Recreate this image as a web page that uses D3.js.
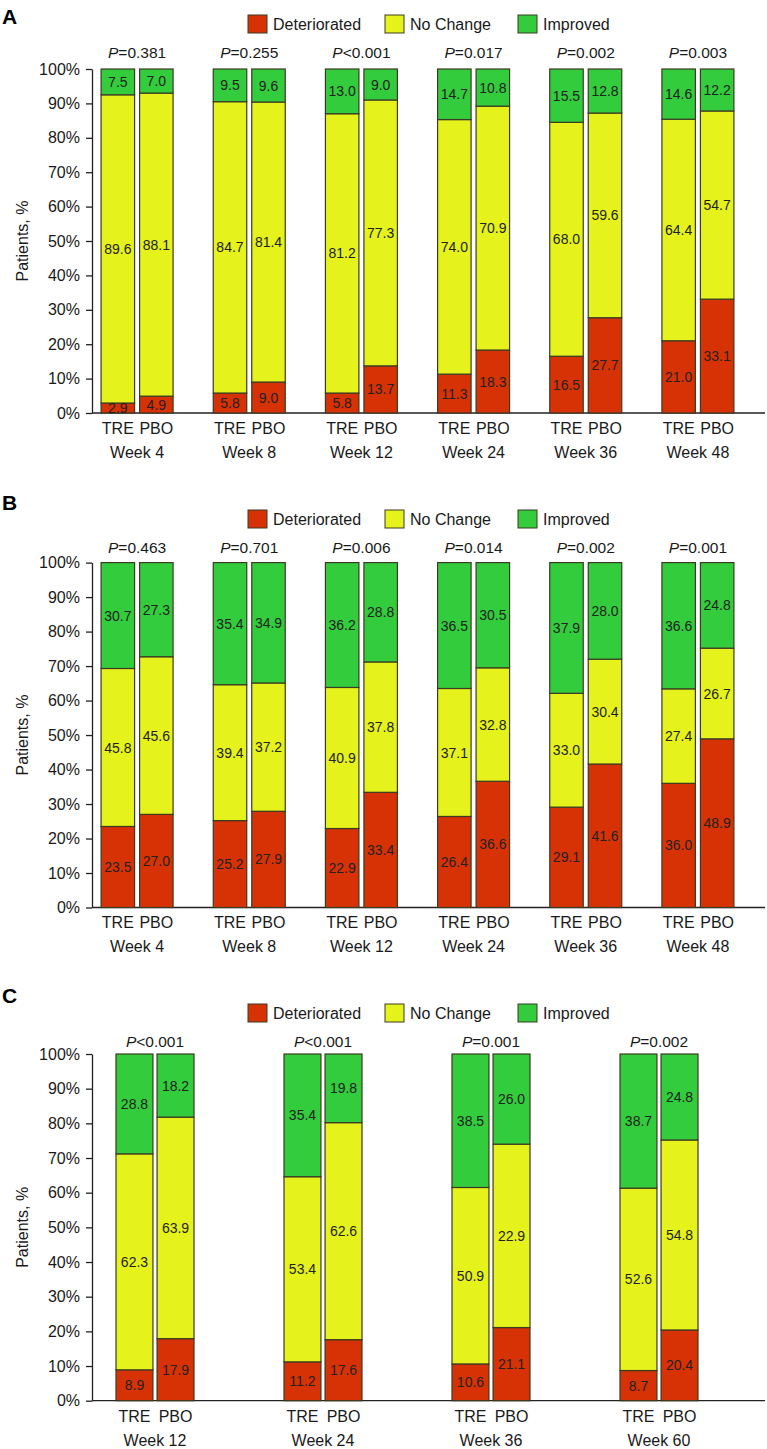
<!DOCTYPE html>
<html><head><meta charset="utf-8">
<script src="https://cdn.jsdelivr.net/npm/d3@7"></script>
<style>
html,body{margin:0;padding:0;background:#fff;}
svg text{font-family:"Liberation Sans",Arial,Helvetica,sans-serif;fill:#1a1a1a;}
</style></head>
<body>
<svg id="chart" width="767" height="1449"></svg>
<script>
// ---------- data ----------
const categories = ["Deteriorated", "No Change", "Improved"];
const arms = ["TRE", "PBO"];
const yTicks = [0, 10, 20, 30, 40, 50, 60, 70, 80, 90, 100];

const weeksAB = ["Week 4", "Week 8", "Week 12", "Week 24", "Week 36", "Week 48"];
const weeksC = ["Week 12", "Week 24", "Week 36", "Week 60"];

// Panel A
const pA = ["=0.381", "=0.255", "<0.001", "=0.017", "=0.002", "=0.003"];
const aTreDet = [2.9, 5.8, 5.8, 11.3, 16.5, 21.0];
const aTreNc  = [89.6, 84.7, 81.2, 74.0, 68.0, 64.4];
const aTreImp = [7.5, 9.5, 13.0, 14.7, 15.5, 14.6];
const aPboDet = [4.9, 9.0, 13.7, 18.3, 27.7, 33.1];
const aPboNc  = [88.1, 81.4, 77.3, 70.9, 59.6, 54.7];
const aPboImp = [7.0, 9.6, 9.0, 10.8, 12.8, 12.2];

// Panel B
const pB = ["=0.463", "=0.701", "=0.006", "=0.014", "=0.002", "=0.001"];
const bTreDet = [23.5, 25.2, 22.9, 26.4, 29.1, 36.0];
const bTreNc  = [45.8, 39.4, 40.9, 37.1, 33.0, 27.4];
const bTreImp = [30.7, 35.4, 36.2, 36.5, 37.9, 36.6];
const bPboDet = [27.0, 27.9, 33.4, 36.6, 41.6, 48.9];
const bPboNc  = [45.6, 37.2, 37.8, 32.8, 30.4, 26.7];
const bPboImp = [27.3, 34.9, 28.8, 30.5, 28.0, 24.8];

// Panel C
const pC = ["<0.001", "<0.001", "=0.001", "=0.002"];
const cTreDet = [8.9, 11.2, 10.6, 8.7];
const cTreNc  = [62.3, 53.4, 50.9, 52.6];
const cTreImp = [28.8, 35.4, 38.5, 38.7];
const cPboDet = [17.9, 17.6, 21.1, 20.4];
const cPboNc  = [63.9, 62.6, 22.9, 54.8];
const cPboImp = [18.2, 19.8, 26.0, 24.8];

// ---------- styles ----------
const colors = {"Deteriorated": "#d63206", "No Change": "#e6f21c", "Improved": "#33cc3c"};
const strokeCol = "#3b3a22";

const svg = d3.select("#chart");

function panel(cfg) {
  const g = svg.append("g");
  const y = d3.scaleLinear().domain([0, 100]).range([cfg.y0, cfg.y100]);
  const x = d3.scaleBand().domain(cfg.weeks).range(cfg.xRange);
  const xi = d3.scaleBand().domain(arms).range([0, cfg.pairW]).paddingInner(cfg.innerPad);
  const off = (x.bandwidth() - cfg.pairW) / 2;

  // panel letter
  g.append("text").attr("x", 2).attr("y", cfg.letterY).text(cfg.letter)
    .style("font-size", "21px").style("font-weight", "bold").style("fill", "#000");

  // legend
  const legX = [248, 385, 518];
  categories.forEach((c, i) => {
    g.append("rect").attr("x", legX[i]).attr("y", cfg.legY - 9).attr("width", 19).attr("height", 18)
      .attr("fill", colors[c]).attr("stroke", strokeCol).attr("stroke-width", 1);
    g.append("text").attr("x", legX[i] + 25).attr("y", cfg.legY).attr("dy", "0.35em")
      .text(c).style("font-size", "16px");
  });

  // y axis
  const yAxis = d3.axisLeft(y).tickValues(yTicks).tickFormat(d => d + "%").tickSize(6).tickSizeOuter(0).tickPadding(6);
  const ya = g.append("g").attr("transform", `translate(${cfg.axisX},0)`).call(yAxis);
  ya.selectAll("text").style("font-size", "16px").style("fill", "#1a1a1a");
  ya.selectAll("line,path").attr("stroke", "#222").attr("stroke-width", 1.3);

  // x baseline
  g.append("line").attr("x1", cfg.axisX).attr("x2", cfg.xEnd).attr("y1", y(0)).attr("y2", y(0))
    .attr("stroke", "#222").attr("stroke-width", 1.3);

  // y title
  g.append("text").attr("transform", `translate(22,${(cfg.y0 + cfg.y100) / 2}) rotate(-90)`)
    .attr("text-anchor", "middle").attr("dy", "0.35em").text("Patients, %").style("font-size", "16px");

  cfg.weeks.forEach((w, i) => {
    const cx = x(w) + x.bandwidth() / 2;
    // P value
    const pt = g.append("text").attr("x", cx).attr("y", cfg.pY).attr("dy", "0.35em")
      .attr("text-anchor", "middle").style("font-size", "15.5px");
    pt.append("tspan").text("P").style("font-style", "italic");
    pt.append("tspan").text(cfg.p[i]);
    // week label
    g.append("text").attr("x", cx).attr("y", cfg.weekY).attr("dy", "0.35em")
      .attr("text-anchor", "middle").text(w).style("font-size", "16px");

    arms.forEach(arm => {
      const bx = x(w) + off + xi(arm);
      const bw = xi.bandwidth();
      const d = cfg.data[arm];
      const det = d.det[i], nc = d.nc[i], imp = d.imp[i];
      const segs = [
        {c: "Deteriorated", lo: 0, hi: det, v: det},
        {c: "No Change", lo: det, hi: 100 - imp, v: nc},
        {c: "Improved", lo: 100 - imp, hi: 100, v: imp}
      ];
      segs.forEach(s => {
        g.append("rect").attr("x", bx).attr("y", y(s.hi)).attr("width", bw)
          .attr("height", y(s.lo) - y(s.hi)).attr("fill", colors[s.c])
          .attr("stroke", strokeCol).attr("stroke-width", 1.2);
      });
      segs.forEach(s => {
        g.append("text").attr("x", bx + bw / 2).attr("y", (y(s.lo) + y(s.hi)) / 2).attr("dy", "0.36em")
          .attr("text-anchor", "middle").text(s.v.toFixed(1)).style("font-size", "14px")
          .style("fill", "#222");
      });
      g.append("text").attr("x", bx + bw / 2).attr("y", cfg.armY).attr("dy", "0.35em")
        .attr("text-anchor", "middle").text(arm).style("font-size", "16px");
    });
  });
}

panel({
  letter: "A", letterY: 24, legY: 24, pY: 53, y0: 413, y100: 69, armY: 428, weekY: 452,
  weeks: weeksAB, p: pA, xRange: [81, 754], pairW: 72, innerPad: 0.13, axisX: 92, xEnd: 765,
  data: {TRE: {det: aTreDet, nc: aTreNc, imp: aTreImp}, PBO: {det: aPboDet, nc: aPboNc, imp: aPboImp}}
});
panel({
  letter: "B", letterY: 510, legY: 519, pY: 548, y0: 907.5, y100: 562.6, armY: 922, weekY: 946,
  weeks: weeksAB, p: pB, xRange: [81, 754], pairW: 72, innerPad: 0.13, axisX: 92, xEnd: 765,
  data: {TRE: {det: bTreDet, nc: bTreNc, imp: bTreImp}, PBO: {det: bPboDet, nc: bPboNc, imp: bPboImp}}
});
panel({
  letter: "C", letterY: 1003, legY: 1013, pY: 1042, y0: 1400.7, y100: 1054, armY: 1416, weekY: 1440,
  weeks: weeksC, p: pC, xRange: [71, 743], pairW: 78, innerPad: 0.1, axisX: 92, xEnd: 765,
  data: {TRE: {det: cTreDet, nc: cTreNc, imp: cTreImp}, PBO: {det: cPboDet, nc: cPboNc, imp: cPboImp}}
});
</script>
</body></html>
